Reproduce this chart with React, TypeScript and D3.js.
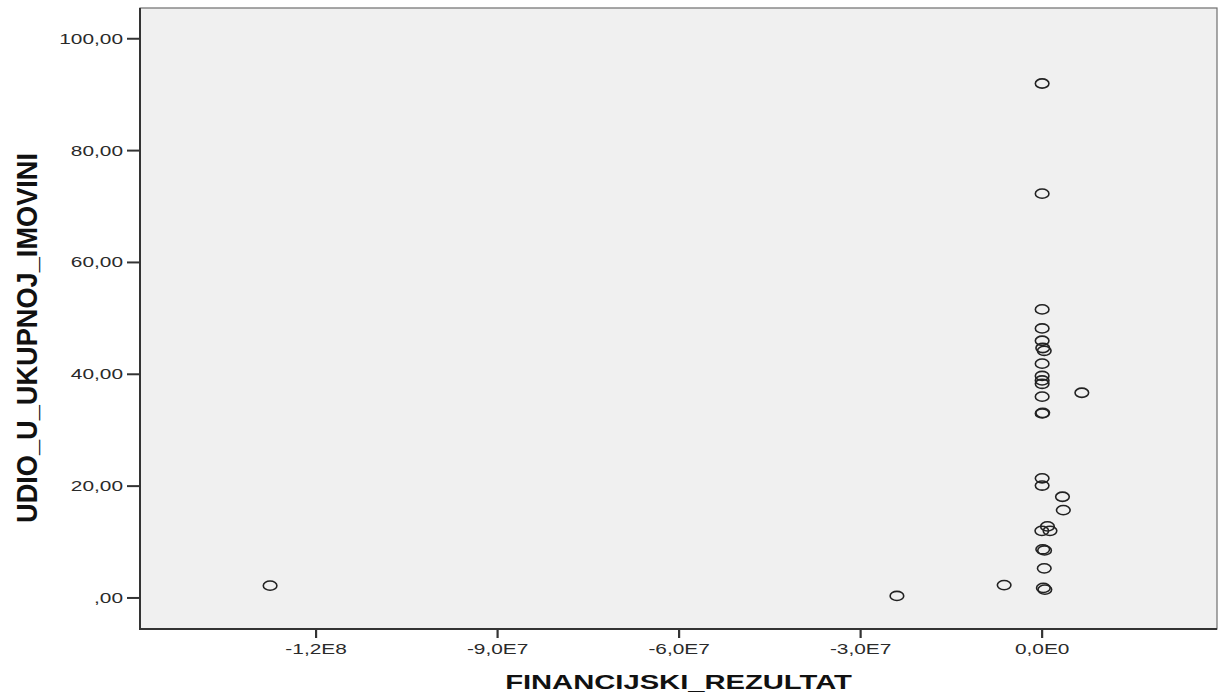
import React from "react";
import * as d3 from "d3";

const finRezultat: number[] = [
  0, 0, 0, 0, 0, 0.1e6, 0.35e6, 0, 0, 0, 0, 0, 6.56e6, 0, 0.1e6,
  0, 0, 3.36e6, 3.5e6, 0.88e6, -0.05e6, 1.3e6, 0.1e6, 0.4e6, 0.35e6,
  0.2e6, 0.45e6, -2.4e7, -6.28e6, -1.276e8,
];
const udio: number[] = [
  92.0, 72.3, 51.6, 48.2, 46.0, 44.7, 44.2, 41.9, 39.7, 38.9, 38.3, 36.0, 36.7, 33.0, 33.1,
  21.4, 20.1, 18.1, 15.7, 12.8, 12.0, 12.0, 8.7, 8.5, 5.3,
  1.8, 1.5, 0.36, 2.3, 2.2,
];
const xTicks: number[] = [-1.2e8, -9e7, -6e7, -3e7, 0];
const xTickLabels: string[] = ["-1,2E8", "-9,0E7", "-6,0E7", "-3,0E7", "0,0E0"];
const yTicks: number[] = [0, 20, 40, 60, 80, 100];
const yTickLabels: string[] = [",00", "20,00", "40,00", "60,00", "80,00", "100,00"];
const xTitle = "FINANCIJSKI_REZULTAT";
const yTitle = "UDIO_U_UKUPNOJ_IMOVINI";

const W = 1218;
const H = 697;
const L = 140, R = 1217, T = 8, B = 629;
const SX = 1.39;
const FONT = "'Liberation Sans', Arial, sans-serif";

export default function App() {
  const x = d3.scaleLinear().domain([-1.491e8, 2.89e7]).range([L, R]);
  const y = d3.scaleLinear().domain([-5.55, 105.5]).range([B, T]);

  return (
    <svg
      width={W}
      height={H}
      style={{ position: "absolute", left: 0, top: 0, display: "block", background: "#fff" }}
    >
      <rect x={L} y={T} width={R - L} height={B - T} fill="#f0f0f0" stroke="#6e6e6e" strokeWidth={1.2} />
      <line x1={L} y1={T} x2={L} y2={B + 1} stroke="#333" strokeWidth={2} />
      <line x1={L - 1} y1={B} x2={R} y2={B} stroke="#333" strokeWidth={2} />

      {yTicks.map((t, i) => (
        <g key={"y" + i}>
          <line x1={L - 13} x2={L} y1={y(t)} y2={y(t)} stroke="#333" strokeWidth={2} />
          <text
            transform={`translate(${L - 17},${y(t) + 5}) scale(${SX},1)`}
            textAnchor="end"
            fontFamily={FONT}
            fontSize={15}
            fill="#2a2a2a"
          >
            {yTickLabels[i]}
          </text>
        </g>
      ))}

      {xTicks.map((t, i) => (
        <g key={"x" + i}>
          <line x1={x(t)} x2={x(t)} y1={B} y2={B + 9} stroke="#333" strokeWidth={2.2} />
          <text
            transform={`translate(${x(t)},${B + 25}) scale(${SX},1)`}
            textAnchor="middle"
            fontFamily={FONT}
            fontSize={15}
            fill="#2a2a2a"
          >
            {xTickLabels[i]}
          </text>
        </g>
      ))}

      {finRezultat.map((v, i) => (
        <ellipse
          key={"p" + i}
          cx={x(v)}
          cy={y(udio[i])}
          rx={6.8}
          ry={4.6}
          fill="none"
          stroke="#222"
          strokeWidth={1.6}
        />
      ))}

      <text
        transform={`translate(${(L + R) / 2},${689}) scale(${SX},1)`}
        textAnchor="middle"
        fontFamily={FONT}
        fontSize={21}
        fontWeight="bold"
        fill="#111"
      >
        {xTitle}
      </text>

      <text
        transform={`translate(37,338) scale(${SX},1) rotate(-90)`}
        textAnchor="middle"
        fontFamily={FONT}
        fontSize={21}
        fontWeight="bold"
        fill="#111"
        textLength={370}
        lengthAdjust="spacingAndGlyphs"
      >
        {yTitle}
      </text>
    </svg>
  );
}
